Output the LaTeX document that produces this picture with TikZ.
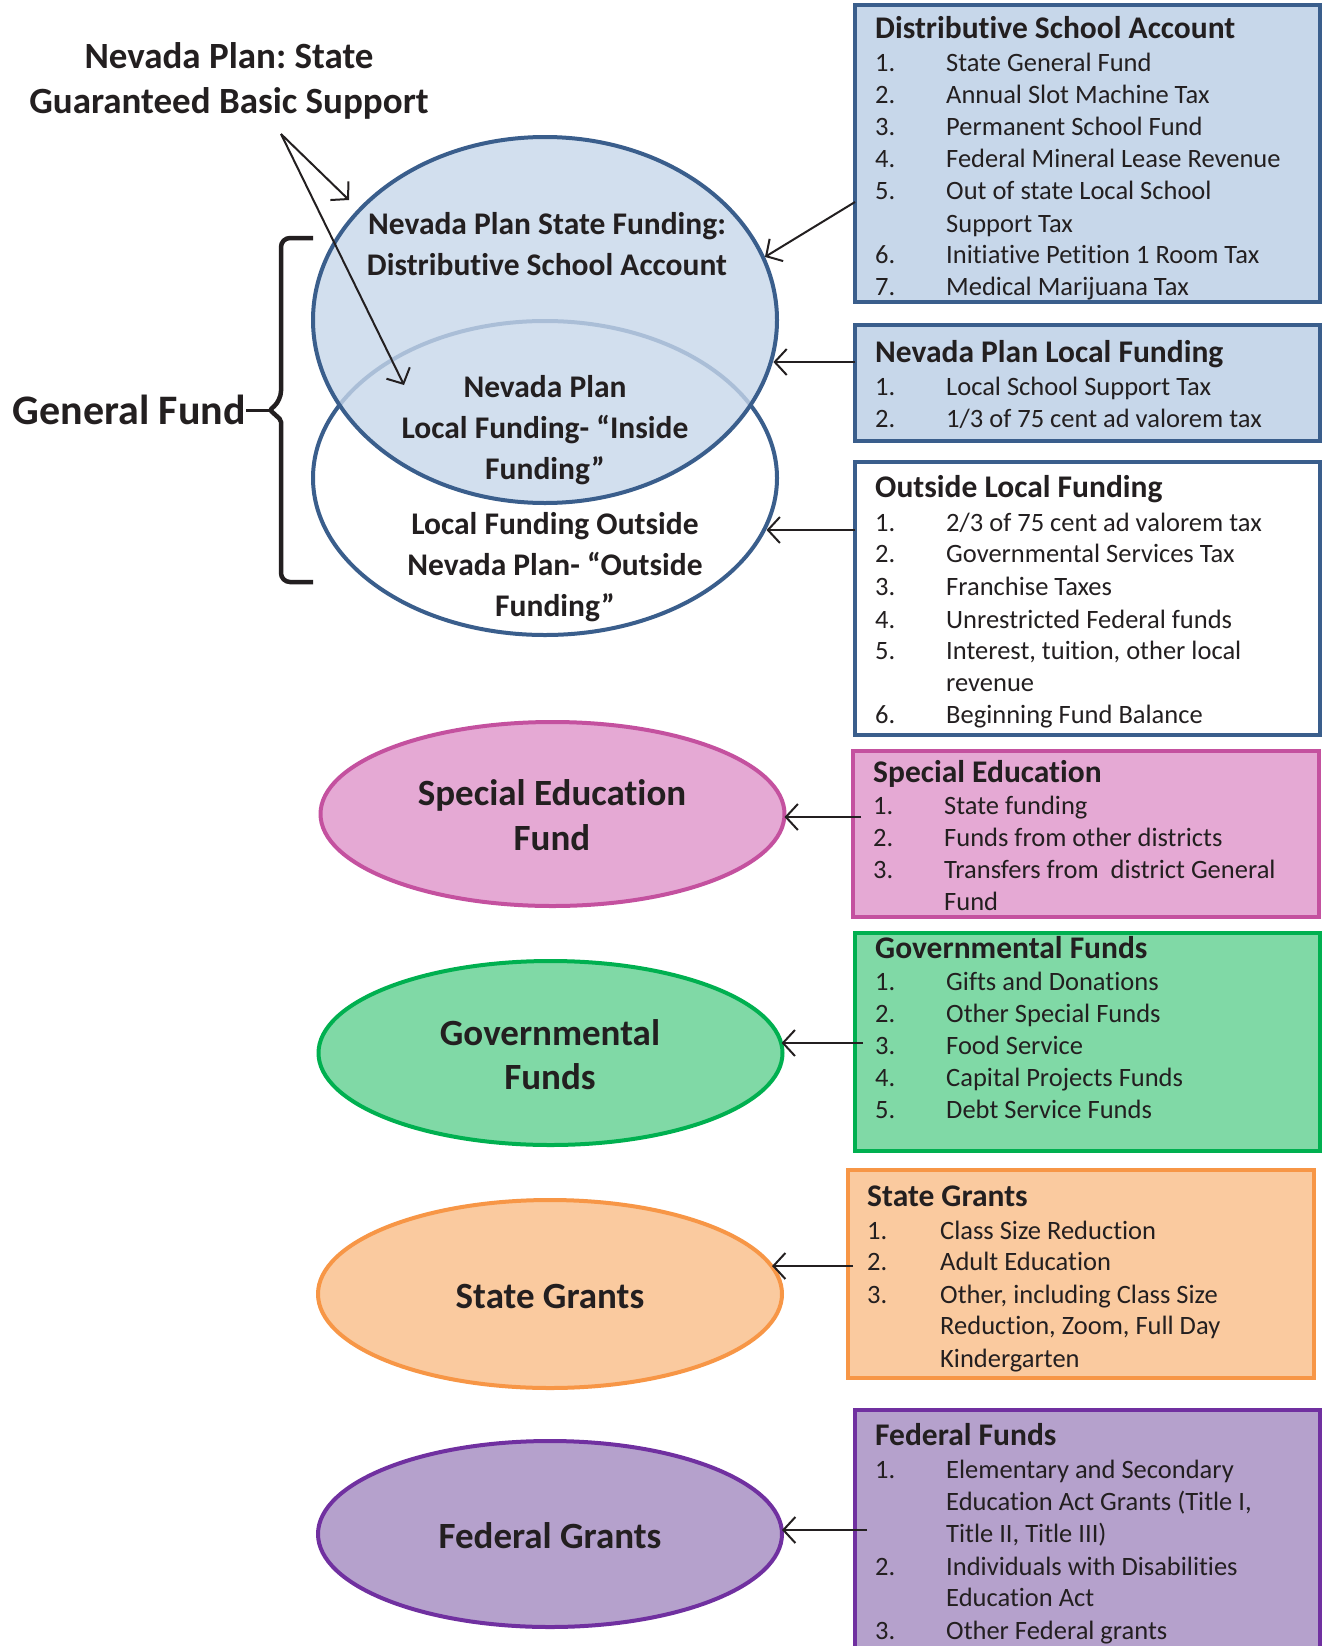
\documentclass[tikz,border=0pt]{standalone}
\usepackage{fontspec}
\setmainfont{Carlito}[Ligatures=NoCommon]
\usetikzlibrary{shapes.geometric,arrows.meta}
\definecolor{ink}{HTML}{231F20}
\definecolor{nvblue}{HTML}{3A5E8C}
\definecolor{nvfill}{HTML}{C7D7EA}
\definecolor{pkline}{HTML}{C4519F}
\definecolor{pkfill}{HTML}{E5A9D4}
\definecolor{gnline}{HTML}{00B050}
\definecolor{gnfill}{HTML}{80D9A6}
\definecolor{orline}{HTML}{F79646}
\definecolor{orfill}{HTML}{FACA9F}
\definecolor{puline}{HTML}{7030A0}
\definecolor{pufill}{HTML}{B5A1CC}
\frenchspacing
\tikzset{
  itm/.style={anchor=mid west, inner sep=0pt, yshift=-6.5pt, text=ink, font=\fontsize{26.5}{32}\selectfont},
  hdr/.style={anchor=mid west, inner sep=0pt, yshift=-8pt, text=ink, font=\bfseries\fontsize{31.5}{38}\selectfont},
  srcbox/.style={draw, rectangle, line width=4.2pt, inner sep=0pt, outer sep=0pt},
  fundell/.style={draw, ellipse, line width=4pt, inner sep=0pt, outer sep=0pt, minimum width=464, minimum height=184},
  etxt/.style={align=center, inner sep=0pt, text=ink, font=\bfseries\fontsize{31.5}{41}\selectfont},
  btxt/.style={align=center, inner sep=0pt, text=ink, font=\bfseries\fontsize{37}{44.5}\selectfont},
  conn/.style={draw=ink, line width=2pt, -{Straight Barb[length=12pt,width=26pt]}},
}
\begin{document}
\begin{tikzpicture}[x=1pt,y=-1pt]
\useasboundingbox (0,0) rectangle (1322,1646);
\fill[white] (0,0) rectangle (1322,1646);

% ---- source boxes
\node[srcbox, draw=nvblue, fill=nvfill, minimum width=465, minimum height=297] (dsa) at (1087.5,153.5) {};
\node[srcbox, draw=nvblue, fill=nvfill, minimum width=465, minimum height=116] (nplf) at (1087.5,383) {};
\node[srcbox, draw=nvblue, fill=white, minimum width=465, minimum height=273] (olf) at (1087.5,598.5) {};
\node[srcbox, draw=pkline, fill=pkfill, minimum width=466, minimum height=166] (spe) at (1086,834) {};
\node[srcbox, draw=gnline, fill=gnfill, minimum width=465, minimum height=218] (gvf) at (1087.5,1042) {};
\node[srcbox, draw=orline, fill=orfill, minimum width=466, minimum height=208] (sgb) at (1081,1274) {};
\node[srcbox, draw=puline, fill=pufill, minimum width=465, minimum height=260] (ffb) at (1087.5,1540) {};

% ---- box texts
\node[hdr] (dsaH) at (875,28) {Distributive School Account};
\foreach \ty/\nm/\tx [count=\k] in {63/1./State General Fund, 95/2./Annual Slot Machine Tax,
  127/3./Permanent School Fund, 159/4./Federal Mineral Lease Revenue,
  191/5./Out of state Local School, 224//Support Tax,
  255/6./Initiative Petition 1 Room Tax, 287/7./Medical Marijuana Tax}{
  \node[itm] (dsaN\k) at (875,\ty) {\nm};
  \node[itm] (dsaT\k) at (946,\ty) {\tx};
}
\node[hdr] (nplfH) at (875,352) {Nevada Plan Local Funding};
\foreach \ty/\nm/\tx [count=\k] in {387/1./Local School Support Tax, 419/2./1\slash 3 of 75 cent ad valorem tax}{
  \node[itm] (nplfN\k) at (875,\ty) {\nm};
  \node[itm] (nplfT\k) at (946,\ty) {\tx};
}
\node[hdr] (olfH) at (875,487) {Outside Local Funding};
\foreach \ty/\nm/\tx [count=\k] in {523/1./2\slash 3 of 75 cent ad valorem tax, 554/2./Governmental Services Tax,
  587/3./Franchise Taxes, 620/4./Unrestricted Federal funds,
  651/5./{Interest, tuition, other local}, 683//revenue, 715/6./Beginning Fund Balance}{
  \node[itm] (olfN\k) at (875,\ty) {\nm};
  \node[itm] (olfT\k) at (946,\ty) {\tx};
}
\node[hdr] (speH) at (873,772) {Special Education};
\foreach \ty/\nm/\tx [count=\k] in {806/1./State funding, 838/2./Funds from other districts,
  870/3./Transfers from~ district General, 902//Fund}{
  \node[itm] (speN\k) at (873,\ty) {\nm};
  \node[itm] (speT\k) at (944,\ty) {\tx};
}
\node[hdr] (gvfH) at (875,948) {Governmental Funds};
\foreach \ty/\nm/\tx [count=\k] in {982/1./Gifts and Donations, 1014/2./Other Special Funds,
  1046/3./Food Service, 1078/4./Capital Projects Funds, 1110/5./Debt Service Funds}{
  \node[itm] (gvfN\k) at (875,\ty) {\nm};
  \node[itm] (gvfT\k) at (946,\ty) {\tx};
}
\node[hdr] (sgbH) at (867,1196) {State Grants};
\foreach \ty/\nm/\tx [count=\k] in {1231/1./Class Size Reduction, 1262/2./Adult Education,
  1295/3./{Other, including Class Size}, 1326//{Reduction, Zoom, Full Day}, 1359//Kindergarten}{
  \node[itm] (sgbN\k) at (867,\ty) {\nm};
  \node[itm] (sgbT\k) at (940,\ty) {\tx};
}
\node[hdr] (ffbH) at (875,1435) {Federal Funds};
\foreach \ty/\nm/\tx [count=\k] in {1470/1./Elementary and Secondary, 1502//{Education Act Grants (Title I,},
  1534//{Title II, Title III)}, 1567/2./Individuals with Disabilities, 1598//Education Act,
  1631/3./Other Federal grants}{
  \node[itm] (ffbN\k) at (875,\ty) {\nm};
  \node[itm] (ffbT\k) at (946,\ty) {\tx};
}

% ---- general fund ellipses
\node[draw=nvblue, fill=white, ellipse, line width=4pt, inner sep=0pt, minimum width=464, minimum height=314] (low) at (545,478) {};
\node[draw=nvblue, fill=nvfill, fill opacity=0.8, ellipse, line width=4pt, inner sep=0pt, minimum width=464, minimum height=366] (up) at (545,320) {};
\node[etxt] (upT) at (547,244) {Nevada Plan State Funding:\\Distributive School Account};
\node[etxt] (inT) at (545,430) {Nevada Plan\\Local Funding- “Inside\\Funding”};
\node[etxt] (outT) at (555,567.5) {Local Funding Outside\\Nevada Plan- “Outside\\Funding”};

% ---- other fund ellipses
\node[fundell, draw=pkline, fill=pkfill] (sp) at (552.5,814) {};
\node[btxt] (spT) at (552,815) {Special Education\\Fund};
\node[fundell, draw=gnline, fill=gnfill] (gov) at (550.5,1053) {};
\node[btxt] (govT) at (550,1054.5) {Governmental\\Funds};
\node[fundell, draw=orline, fill=orfill, minimum height=188] (sg) at (550,1294) {};
\node[btxt] (sgT) at (550,1296) {State Grants};
\node[fundell, draw=puline, fill=pufill, minimum height=186] (fg) at (550,1534) {};
\node[btxt] (fgT) at (550,1536) {Federal Grants};

% ---- titles
\node[align=center, inner sep=0pt, text=ink, font=\bfseries\fontsize{37}{45}\selectfont] (gbs) at (229,80.5) {Nevada Plan: State\\Guaranteed Basic Support};
\node[anchor=east, inner sep=0pt, text=ink, font=\bfseries\fontsize{42}{50}\selectfont] (gf) at (246,410) {General Fund};

% ---- brace
\coordinate (tip) at (270,410);
\draw[ink, line width=4.5pt, rounded corners=9pt] (313,238) -- (281,238) -- (281,400) [rounded corners=2pt] -- (tip) -- (281,420) [rounded corners=9pt] -- (281,582) -- (313,582);
\draw[ink, line width=3pt] (gf.east) -- (tip);

% ---- connectors
\coordinate (gbsO) at (281,134);
\draw[conn] (gbsO) -- (349,200) coordinate (upHit);
\draw[conn] (gbsO) -- (404,385) coordinate (inHit);

\coordinate (s1) at (855,202);
\coordinate (s2) at (855,362);
\coordinate (s3) at (855,530);
\coordinate (s4) at (861,817);
\coordinate (s5) at (863,1043);
\coordinate (s6) at (853,1266);
\coordinate (s7) at (867,1530);
\draw[conn] (s1) -- (up.16.5);
\draw[conn] (s2) -- (s2 -| up.-10.5);
\draw[conn] (s3) -- (s3 -| low.-13.3);
\draw[conn] (s4) -- (s4 -| sp.east);
\draw[conn] (s5) -- (s5 -| gov.2.5);
\draw[conn] (s6) -- (s6 -| sg.7.2);
\draw[conn] (s7) -- (s7 -| fg.east);
\end{tikzpicture}
\end{document}
